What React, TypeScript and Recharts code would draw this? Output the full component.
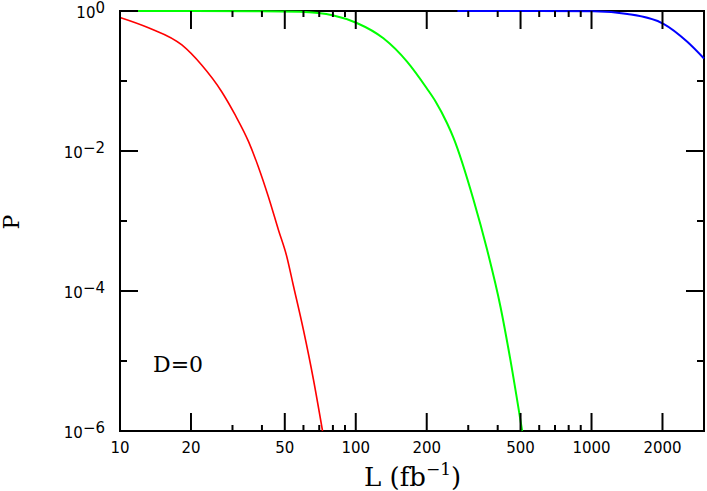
import { Line, LineChart, ReferenceArea, XAxis, YAxis } from "recharts";

// values (L in fb^-1, P probability)
const redL = [10, 13.2, 18.3, 22.2, 27, 30.8, 35.1, 38.6, 42.6, 47, 51, 54.3, 60, 66.2, 72.3];
const redP = [0.81, 0.577, 0.327, 0.169, 0.0703, 0.0327, 0.0136, 0.00597, 0.00222, 7.44e-4, 3.09e-4, 1.22e-4, 2.77e-5, 5.35e-6, 1e-6];

const greenL = [10, 40, 58, 80.5, 101, 131, 165, 200, 218, 244, 260, 316, 361, 411, 453, 508];
const greenP = [1, 0.995, 0.975, 0.862, 0.674, 0.407, 0.189, 0.0787, 0.051, 0.0249, 0.0153, 0.002, 3.85e-4, 5.97e-5, 1.03e-5, 1e-6];

const blueL = [270, 600, 1023, 1419, 2028, 2548, 3000];
const blueP = [1, 1, 0.99, 0.906, 0.652, 0.364, 0.21];

const xTicks = [10, 20, 30, 40, 50, 60, 70, 80, 90, 100, 200, 300, 400, 500, 600, 700, 800, 900, 1000, 2000];
const xMajor = [10, 20, 50, 100, 200, 500, 1000, 2000];
const yTicks = [1e-6, 1e-5, 1e-4, 1e-3, 1e-2, 1e-1, 1];
const yMajor = [-6, -4, -2, 0];

const rows = (xs: number[], ys: number[]) => xs.map((L, i) => ({ L, P: ys[i] }));
const isMajorX = (v: number) => xMajor.some((m) => Math.abs(m - v) < 1e-9);
const expOf = (v: number) => Math.round(Math.log10(v));

const INK = "#000";
const tickFont = "DejaVu Sans";
const serif = "DejaVu Serif";

function BottomTick(props: any) {
  const { x, y, payload } = props;
  const major = isMajorX(payload.value);
  return (
    <g>
      <line x1={x} y1={y} x2={x} y2={y - (major ? 18 : 6)} stroke={INK} strokeWidth={2} />
      {major && (
        <text x={x} y={y + 22} textAnchor="middle" fontFamily={tickFont} fontSize={15} fill={INK}>
          {payload.value}
        </text>
      )}
    </g>
  );
}

function TopTick(props: any) {
  const { x, y, payload } = props;
  const major = isMajorX(payload.value);
  return <line x1={x} y1={y} x2={x} y2={y + (major ? 18 : 6)} stroke={INK} strokeWidth={2} />;
}

function LeftTick(props: any) {
  const { x, y, payload } = props;
  const e = expOf(payload.value);
  const major = yMajor.includes(e);
  return (
    <g>
      <line x1={x} y1={y} x2={x + (major ? 18 : 7)} y2={y} stroke={INK} strokeWidth={2} />
      {major && (
        <text x={x - 15} y={y + 7} textAnchor="end" fontFamily={tickFont} fontSize={15} fill={INK}>
          <tspan>10</tspan>
          <tspan dy={-5}>{e === 0 ? "0" : "\u2212" + Math.abs(e)}</tspan>
        </text>
      )}
    </g>
  );
}

function RightTick(props: any) {
  const { x, y, payload } = props;
  const major = yMajor.includes(expOf(payload.value));
  return <line x1={x} y1={y} x2={x - (major ? 18 : 7)} y2={y} stroke={INK} strokeWidth={2} />;
}

const lineProps = { dataKey: "P", type: "monotone" as const, strokeWidth: 1.6, dot: false, isAnimationActive: false };

export default function App() {
  return (
    <div style={{ position: "absolute", left: 0, top: 0, background: "#fff" }}>
      <LineChart width={707} height={491} margin={{ top: 10, right: 2, bottom: 0, left: 0 }}>
        <XAxis
          xAxisId="bottom"
          dataKey="L"
          type="number"
          scale="log"
          domain={[10, 3000]}
          ticks={xTicks}
          interval={0}
          height={60}
          tickSize={0}
          tickMargin={0}
          tickLine={false}
          tick={<BottomTick />}
          axisLine={false}
          label={{
            content: () => (
              <text x={364} y={486} fontFamily={serif} fontSize={26} fill={INK}>
                <tspan>L (fb</tspan>
                <tspan dy={-11} fontSize={17}>{"\u22121"}</tspan>
                <tspan dy={11}>)</tspan>
              </text>
            ),
          }}
        />
        <XAxis
          xAxisId="top"
          dataKey="L"
          type="number"
          scale="log"
          orientation="top"
          domain={[10, 3000]}
          allowDataOverflow
          ticks={xTicks}
          interval={0}
          height={1}
          tickSize={0}
          tickMargin={0}
          tickLine={false}
          tick={<TopTick />}
          axisLine={false}
          label={{
            content: () => (
              <text x={153} y={372} fontFamily={serif} fontSize={22} fill={INK}>
                D=0
              </text>
            ),
          }}
        />
        <YAxis
          yAxisId="left"
          type="number"
          scale="log"
          domain={[1e-6, 1]}
          ticks={yTicks}
          interval={0}
          width={120}
          tickSize={0}
          tickMargin={0}
          tickLine={false}
          tick={<LeftTick />}
          axisLine={false}
          label={{
            content: () => (
              <text x={19} y={222} transform="rotate(-90 19 222)" textAnchor="middle" fontFamily={serif} fontSize={22} fill={INK}>
                P
              </text>
            ),
          }}
        />
        <YAxis
          yAxisId="right"
          orientation="right"
          type="number"
          scale="log"
          domain={[1e-6, 1]}
          allowDataOverflow
          ticks={yTicks}
          interval={0}
          width={1}
          tickSize={0}
          tickMargin={0}
          tickLine={false}
          tick={<RightTick />}
          axisLine={false}
        />
        <ReferenceArea
          xAxisId="bottom"
          yAxisId="left"
          x1={10}
          x2={3000}
          y1={1e-6}
          y2={1}
          fill="none"
          fillOpacity={0}
          stroke={INK}
          strokeWidth={2}
          ifOverflow="visible"
        />
        {/* invisible copy so the mirrored top/right axes get a series */}
        <Line xAxisId="top" yAxisId="right" data={rows(blueL, blueP)} {...lineProps} stroke="none" />
        <Line xAxisId="bottom" yAxisId="left" data={rows(redL, redP)} {...lineProps} stroke="#ff0000" />
        <Line xAxisId="bottom" yAxisId="left" data={rows(greenL, greenP)} {...lineProps} stroke="#00ff00" strokeWidth={2} />
        <Line xAxisId="bottom" yAxisId="left" data={rows(blueL, blueP)} {...lineProps} stroke="#0000ff" strokeWidth={2} />
      </LineChart>
    </div>
  );
}
